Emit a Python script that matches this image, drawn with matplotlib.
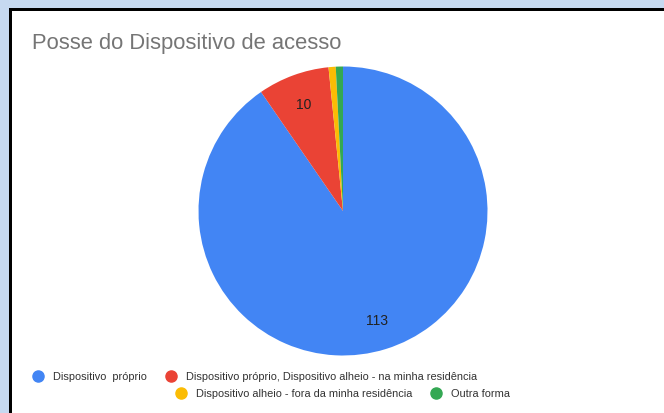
import matplotlib.pyplot as plt
from matplotlib.patches import Rectangle
from matplotlib.lines import Line2D

plt.rcParams['font.family'] = ['Liberation Sans', 'DejaVu Sans']

# dados
categorias = ['Dispositivo  próprio',
              'Dispositivo próprio, Dispositivo alheio - na minha residência',
              'Dispositivo alheio - fora da minha residência',
              'Outra forma']
valores = [113, 10, 1, 1]
cores = ['#4285f4', '#ea4335', '#fbbc04', '#34a853']
titulo = 'Posse do Dispositivo de acesso'

W, H = 664, 414
fig = plt.figure(figsize=(W / 100, H / 100), dpi=100)
fig.patch.set_facecolor('#c6d9f0')

# moldura: borda preta e area branca
fig.patches.append(Rectangle((9 / W, 0), 1, 1 - 9 / H, transform=fig.transFigure,
                             facecolor='black', edgecolor='none', zorder=-2))
fig.patches.append(Rectangle((12 / W, 0), 1, 1 - 12 / H, transform=fig.transFigure,
                             facecolor='white', edgecolor='none', zorder=-1))

fig.text(32 / W, 1 - 43 / H, titulo, fontsize=15.8, color='#757575',
         ha='left', va='center')

# pizza
cx, cy, r = 343, 212, 144.5
ax = fig.add_axes([(cx - r) / W, (H - cy - r) / H, 2 * r / W, 2 * r / H])
ax.patch.set_alpha(0)
total = sum(valores)


def rotulo(pct):
    v = int(round(pct * total / 100))
    return str(v) if pct > 5 else ''


ax.pie(valores, colors=cores, startangle=90, counterclock=False,
       autopct=rotulo, pctdistance=0.79,
       textprops={'fontsize': 10, 'color': '#222222'},
       wedgeprops={'linewidth': 0})
ax.set_xlim(-1, 1)
ax.set_ylim(-1, 1)

# legenda em duas linhas
renderer = fig.canvas.get_renderer()
linhas = [(38, 377, [0, 1]), (181, 394, [2, 3])]
for x0, y0, idx in linhas:
    x = x0
    for i in idx:
        fig.add_artist(Line2D([x / W], [1 - y0 / H], marker='o', markersize=8,
                              color=cores[i], linestyle='none',
                              transform=fig.transFigure))
        t = fig.text((x + 15) / W, 1 - y0 / H, categorias[i], fontsize=7.9,
                     color='#333333', ha='left', va='center')
        bb = t.get_window_extent(renderer)
        x = bb.x1 + 24

fig.savefig('out.png', dpi=100)
